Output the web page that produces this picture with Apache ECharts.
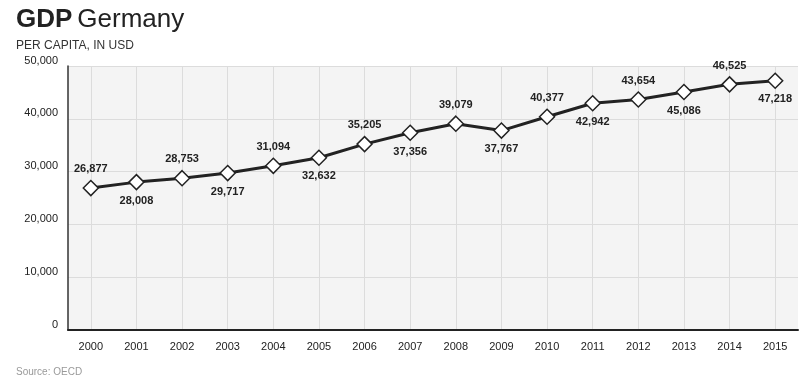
<!DOCTYPE html>
<html>
<head>
<meta charset="utf-8">
<script src="https://cdn.jsdelivr.net/npm/echarts@6/dist/echarts.min.js"></script>
<style>
html, body { margin: 0; padding: 0; background: #fff; }
#chart { width: 800px; height: 378px; }
</style>
</head>
<body>
<div id="chart"></div>
<script>
const years = ['2000', '2001', '2002', '2003', '2004', '2005', '2006', '2007',
    '2008', '2009', '2010', '2011', '2012', '2013', '2014', '2015'];
const gdp = [26877, 28008, 28753, 29717, 31094, 32632, 35205, 37356,
    39079, 37767, 40377, 42942, 43654, 45086, 46525, 47218];
const labelSide = ['top', 'bottom', 'top', 'bottom', 'top', 'bottom', 'top', 'bottom',
    'top', 'bottom', 'top', 'bottom', 'top', 'bottom', 'top', 'bottom'];

let mychart = echarts.init(document.getElementById('chart'));
let option = {
    animation: false,
    textStyle: { fontFamily: 'Liberation Sans' },
    title: [
        {
            left: 11,
            top: 2,
            text: '{b|GDP} {n|Germany}',
            textStyle: {
                rich: {
                    b: { fontSize: 26, fontWeight: 'bold', color: '#222', fontFamily: 'Liberation Sans' },
                    n: { fontSize: 26, fontWeight: 'normal', color: '#222', fontFamily: 'Liberation Sans' }
                }
            }
        },
        {
            left: 11,
            top: 35,
            text: 'PER CAPITA, IN USD',
            textStyle: { fontSize: 12, fontWeight: 'normal', color: '#333' }
        },
        {
            left: 11,
            top: 362,
            text: 'Source: OECD',
            textStyle: { fontSize: 10, fontWeight: 'normal', color: '#999' }
        }
    ],
    grid: {
        left: 68,
        right: 2,
        top: 66,
        bottom: 48,
        show: true,
        backgroundColor: '#f4f4f4',
        borderWidth: 0
    },
    xAxis: {
        type: 'category',
        data: years,
        boundaryGap: true,
        axisTick: { show: false, alignWithLabel: true },
        axisLine: { lineStyle: { color: '#222', width: 2 } },
        axisLabel: { color: '#222', fontSize: 11, margin: 11 },
        splitLine: { show: true, interval: 0, alignWithLabel: true, lineStyle: { color: '#dcdcdc' } }
    },
    yAxis: {
        type: 'value',
        min: 0,
        max: 50000,
        interval: 10000,
        axisTick: { show: false },
        axisLine: { show: true, lineStyle: { color: '#333', width: 1.5 } },
        axisLabel: {
            color: '#222',
            fontSize: 11,
            margin: 10,
            verticalAlign: 'bottom',
            formatter: v => v.toLocaleString('en-US')
        },
        splitLine: { lineStyle: { color: '#dcdcdc' } }
    },
    series: [
        {
            type: 'line',
            data: gdp.map((v, i) => ({
                value: v,
                label: { position: labelSide[i] }
            })),
            symbol: 'diamond',
            symbolSize: 15,
            lineStyle: { color: '#222', width: 3 },
            itemStyle: { color: '#fff', borderColor: '#222', borderWidth: 1.5 },
            label: {
                show: true,
                distance: 5,
                fontSize: 11,
                fontWeight: 'bold',
                color: '#222',
                formatter: p => p.value.toLocaleString('en-US')
            }
        }
    ]
};
mychart.setOption(option);
window.addEventListener('resize', function () {
    mychart.resize();
});
</script>
</body>
</html>
